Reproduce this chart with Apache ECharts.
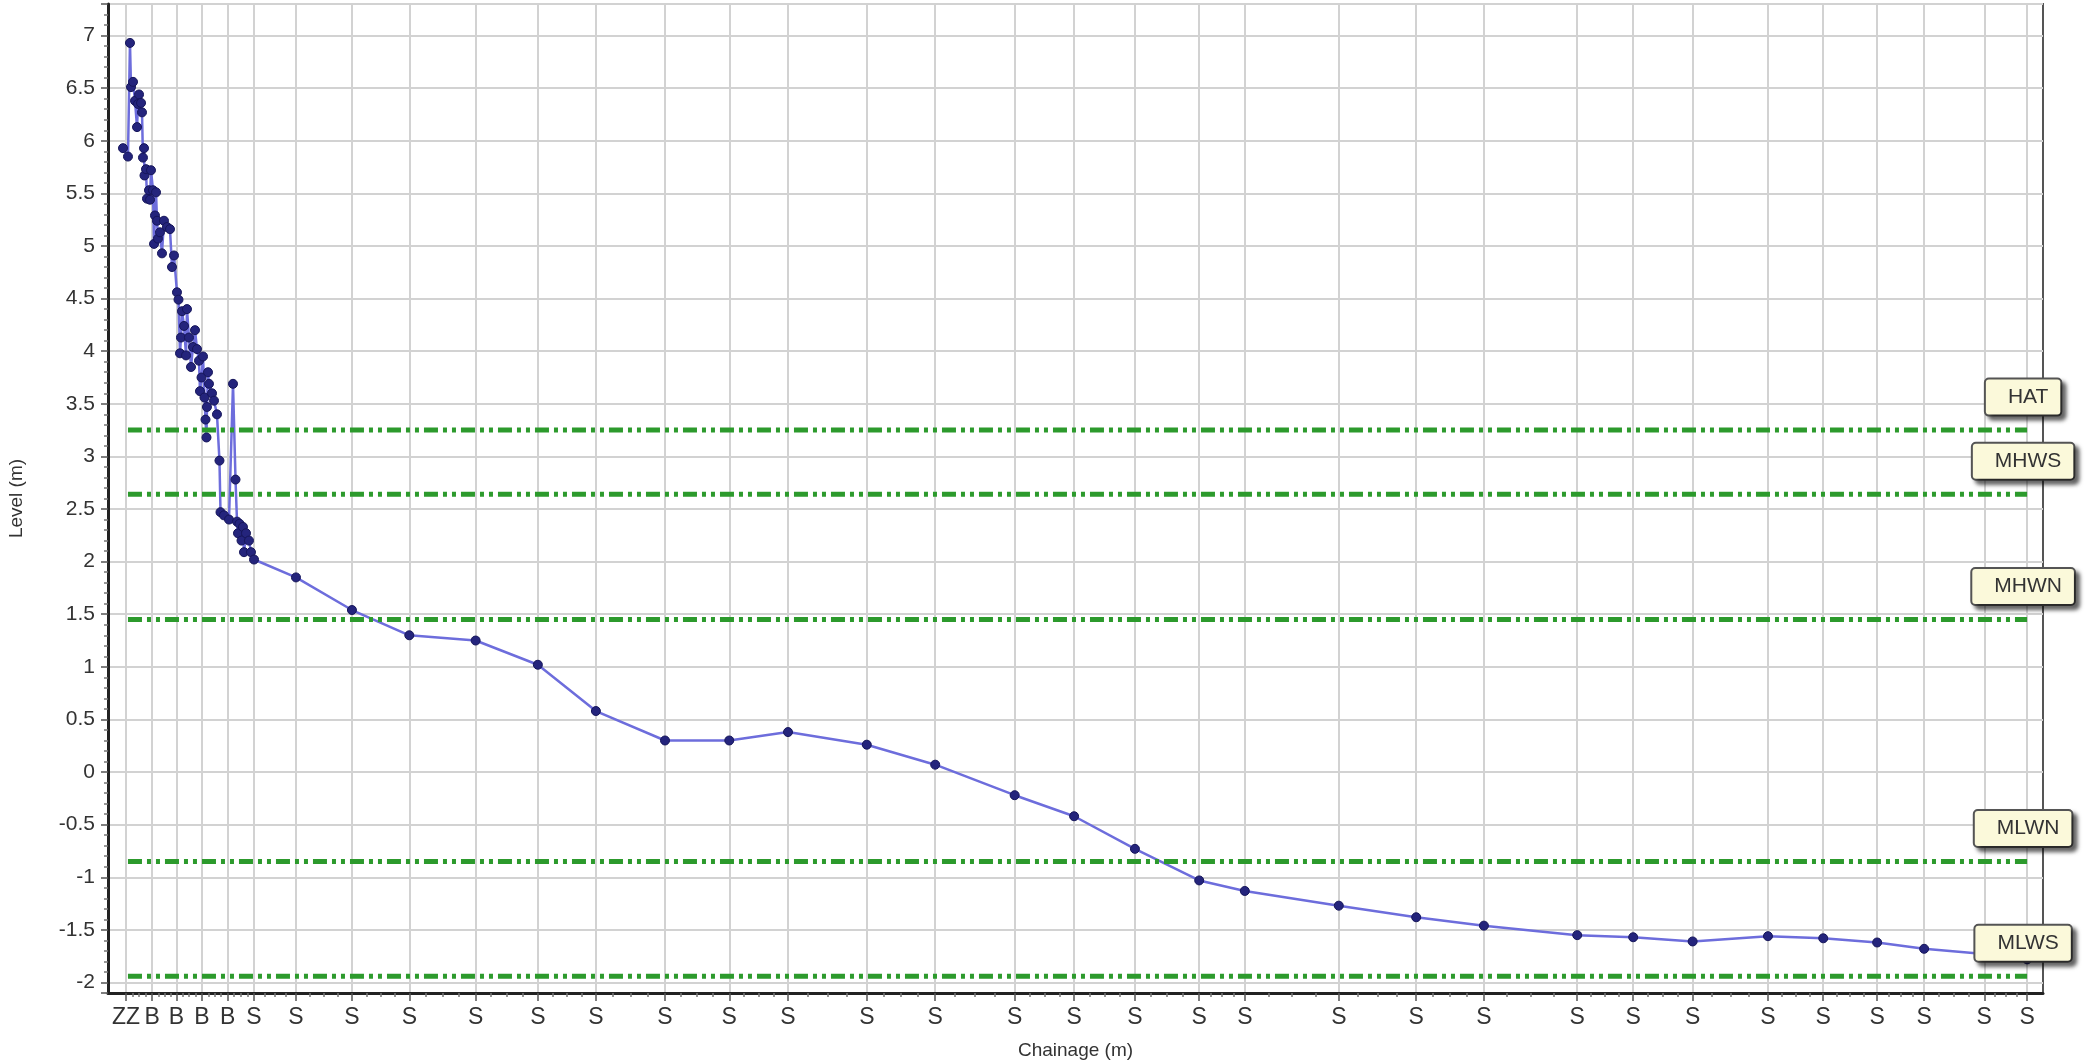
<!DOCTYPE html>
<html>
<head>
<meta charset="utf-8">
<script src="https://cdn.jsdelivr.net/npm/echarts@6/dist/echarts.min.js"></script>
<style>
  html, body { margin: 0; padding: 0; background: #fff; }
  #chart { width: 2092px; height: 1061px; }
</style>
</head>
<body>
<div id="chart"></div>
<script>
// survey points: chainage (m) and level (m)
const chainage = [
  2.17, 2.89, 3.18, 3.33, 3.62, 3.91, 4.20, 4.34, 4.49, 4.78, 4.92, 5.06, 5.21, 5.28, 5.50,
  5.64, 5.93, 6.08, 6.22, 6.51, 6.66, 6.80, 6.95, 7.09, 7.23, 7.52, 7.81, 8.10, 8.54, 8.97,
  9.26, 9.55, 9.98, 10.20, 10.42, 10.56, 10.71, 11.00, 11.29, 11.43, 11.72, 12.01, 12.30, 12.59, 12.88,
  13.17, 13.31, 13.53, 13.75, 13.96, 14.11, 14.25, 14.32, 14.47, 14.61, 15.05, 15.34, 15.77, 16.13, 16.28,
  16.78, 17.51, 18.09, 18.45, 18.67, 18.81, 19.03, 19.32, 19.53, 19.68, 19.97, 20.40, 20.69, 21.13,
  27.2, 35.3, 43.6, 53.2, 62.2, 70.6, 80.6, 89.9, 98.4, 109.8, 119.7, 131.2, 139.8, 148.6, 157.9,
  164.5, 178.1, 189.3, 199.1, 212.6, 220.7, 229.3, 240.2, 248.2, 256.0, 262.8, 271.5, 277.7
];
const level = [
  5.93, 5.85, 6.93, 6.51, 6.56, 6.38, 6.13, 6.35, 6.44, 6.36, 6.27, 5.84, 5.93, 5.67, 5.73,
  5.45, 5.53, 5.44, 5.72, 5.53, 5.02, 5.29, 5.51, 5.24, 5.07, 5.13, 4.93, 5.24, 5.18, 5.16,
  4.80, 4.91, 4.56, 4.49, 3.98, 4.13, 4.38, 4.24, 3.96, 4.40, 4.13, 3.85, 4.04, 4.20, 4.02,
  3.91, 3.62, 3.75, 3.95, 3.56, 3.35, 3.18, 3.47, 3.80, 3.69, 3.60, 3.53, 3.40, 2.96, 2.47,
  2.44, 2.40, 3.69, 2.78, 2.38, 2.27, 2.36, 2.20, 2.33, 2.09, 2.27, 2.20, 2.09, 2.02,
  1.85, 1.54, 1.30, 1.25, 1.02, 0.58, 0.30, 0.30, 0.38, 0.26, 0.07, -0.22, -0.42, -0.73, -1.03,
  -1.13, -1.27, -1.38, -1.46, -1.55, -1.57, -1.61, -1.56, -1.58, -1.62, -1.68, -1.73, -1.78
];

// labelled ticks along the chainage axis (feature codes)
const tickChainage = [
  2.6, 6.4, 9.9, 13.6, 17.3, 21.1, 27.2, 35.3, 43.6, 53.2, 62.2, 70.6, 80.6, 89.9, 98.4,
  109.8, 119.7, 131.2, 139.8, 148.6, 157.9, 164.5, 178.1, 189.3, 199.1, 212.6, 220.7, 229.3,
  240.2, 248.2, 256.0, 262.8, 271.5, 277.7
];
const tickCodes = [
  'ZZ', 'B', 'B', 'B', 'B', 'S', 'S', 'S', 'S', 'S', 'S', 'S', 'S', 'S', 'S',
  'S', 'S', 'S', 'S', 'S', 'S', 'S', 'S', 'S', 'S', 'S', 'S', 'S',
  'S', 'S', 'S', 'S', 'S', 'S'
];

// tidal levels (m)
const tideNames = ['HAT', 'MHWS', 'MHWN', 'MLWN', 'MLWS'];
const tideLevels = [3.25, 2.64, 1.45, -0.85, -1.94];

const font = 'Liberation Sans, Arial, sans-serif';

// small ticks: three between each pair of labelled ticks
const minorTicks = [];
for (let i = 1; i < tickChainage.length; i++) {
  const a = tickChainage[i - 1], b = tickChainage[i];
  for (let k = 1; k < 4; k++) minorTicks.push(a + (b - a) * k / 4);
}

const chart = echarts.init(document.getElementById('chart'));

const tideStart = chainage[1];
const last = chainage[chainage.length - 1];

const tideSeries = tideNames.map((name, i) => ({
  type: 'line',
  name: name,
  data: [[tideStart, tideLevels[i]], [last, tideLevels[i]]],
  symbol: 'none',
  silent: true,
  clip: false,
  z: 3,
  lineStyle: { color: '#2c9a2c', width: 5, type: [14, 5, 4, 5, 4, 5] },
  markPoint: {
    symbol: 'rect',
    symbolSize: 1,
    silent: true,
    itemStyle: { color: 'rgba(0,0,0,0)' },
    label: {
      show: true,
      position: 'top',
      distance: 15,
      offset: [-4, 0],
      formatter: () => name,
      fontFamily: font,
      fontSize: 21,
      color: '#333',
      backgroundColor: '#fbf9da',
      borderColor: '#555',
      borderWidth: 2,
      borderRadius: 3,
      padding: [7, 12, 7, 22],
      shadowColor: 'rgba(0,0,0,0.55)',
      shadowBlur: 4,
      shadowOffsetX: 4,
      shadowOffsetY: 4
    },
    data: [{ coord: [last, tideLevels[i]] }]
  }
}));

const option = {
  backgroundColor: '#fff',
  animation: false,
  grid: {
    left: 108, right: 49, top: 4, bottom: 68,
    show: true, borderColor: '#555', borderWidth: 2,
    outerBoundsMode: 'none'
  },
  xAxis: [{
    type: 'value',
    min: 0,
    max: 280,
    name: 'Chainage (m)',
    nameLocation: 'middle',
    nameGap: 48,
    nameTextStyle: { fontFamily: font, fontSize: 19, color: '#333' },
    axisLine: { onZero: false, lineStyle: { color: '#222', width: 3 } },
    axisTick: { customValues: tickChainage, length: 8, lineStyle: { color: '#555', width: 1.5 } },
    axisLabel: {
      customValues: tickChainage,
      hideOverlap: false,
      showMinLabel: true,
      showMaxLabel: true,
      margin: 13,
      fontFamily: font,
      fontSize: 23,
      color: '#333',
      formatter: v => {
        const i = tickChainage.findIndex(t => Math.abs(t - v) < 1e-6);
        return i >= 0 ? tickCodes[i] : '';
      }
    },
    splitLine: { show: true, lineStyle: { color: '#d2d2d2', width: 2 } }
  }, {
    type: 'value',
    min: 0,
    max: 280,
    position: 'bottom',
    axisLine: { show: false, onZero: false },
    axisTick: { customValues: minorTicks, length: 4, lineStyle: { color: '#777', width: 1.5 } },
    axisLabel: { show: false },
    splitLine: { show: false }
  }],
  yAxis: {
    type: 'value',
    min: -2.1,
    max: 7.3,
    splitNumber: 19,
    name: 'Level (m)',
    nameLocation: 'middle',
    nameGap: 82,
    nameTextStyle: { fontFamily: font, fontSize: 19, color: '#333' },
    axisLine: { show: true, lineStyle: { color: '#222', width: 3 } },
    axisTick: { show: true, length: 7, lineStyle: { color: '#555', width: 1.5 } },
    minorTick: { show: true, splitNumber: 5, length: 4, lineStyle: { color: '#777', width: 1.5 } },
    axisLabel: {
      margin: 13,
      fontFamily: font,
      fontSize: 21,
      color: '#333',
      showMinLabel: false,
      showMaxLabel: false
    },
    splitLine: { show: true, lineStyle: { color: '#d2d2d2', width: 2 } }
  },
  series: [{
    type: 'line',
    name: 'Profile',
    data: chainage.map((c, i) => [c, level[i]]),
    symbol: 'circle',
    symbolSize: 9,
    z: 2,
    itemStyle: { color: '#24247c', borderColor: '#16165a', borderWidth: 1 },
    lineStyle: { color: '#6d6ddc', width: 2.5 }
  }, ...tideSeries]
};

chart.setOption(option);
</script>
</body>
</html>
